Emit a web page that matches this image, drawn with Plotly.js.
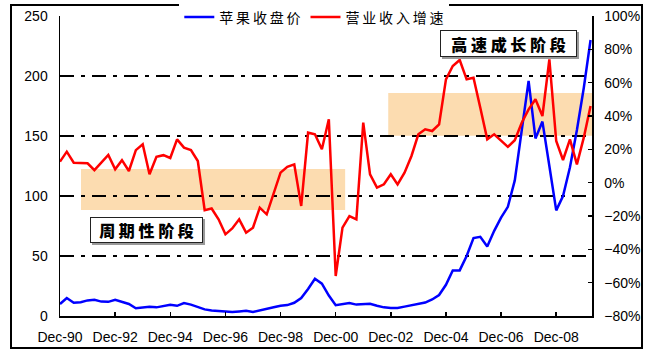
<!DOCTYPE html>
<html>
<head>
<meta charset="utf-8">
<script src="https://cdn.plot.ly/plotly-3.0.1.min.js"></script>
<style>
html,body{margin:0;padding:0;background:#fff;}
#chart{width:658px;height:358px;}
</style>
</head>
<body>
<div id="chart"></div>
<script>
// Quarterly dates, Dec-1990 .. Mar-2010
const dates = [
 "1990-12",
 "1991-03","1991-06","1991-09","1991-12",
 "1992-03","1992-06","1992-09","1992-12",
 "1993-03","1993-06","1993-09","1993-12",
 "1994-03","1994-06","1994-09","1994-12",
 "1995-03","1995-06","1995-09","1995-12",
 "1996-03","1996-06","1996-09","1996-12",
 "1997-03","1997-06","1997-09","1997-12",
 "1998-03","1998-06","1998-09","1998-12",
 "1999-03","1999-06","1999-09","1999-12",
 "2000-03","2000-06","2000-09","2000-12",
 "2001-03","2001-06","2001-09","2001-12",
 "2002-03","2002-06","2002-09","2002-12",
 "2003-03","2003-06","2003-09","2003-12",
 "2004-03","2004-06","2004-09","2004-12",
 "2005-03","2005-06","2005-09","2005-12",
 "2006-03","2006-06","2006-09","2006-12",
 "2007-03","2007-06","2007-09","2007-12",
 "2008-03","2008-06","2008-09","2008-12",
 "2009-03","2009-06","2009-09","2009-12",
 "2010-03"
];

// 苹果收盘价 (left axis)
const closePrice = [
 10,
 15, 11, 11.5, 13,
 13.5, 12, 11.8, 13.5,
 12, 10, 6.5, 6.8,
 7.7, 7.2, 8.2, 9.3,
 8.5, 10.8, 9.5, 7.5,
 5.5, 4.6, 4.1, 3.7,
 3.4, 3.8, 4.3, 3.4,
 4.8, 6.4, 7.3, 8.6,
 9.1, 11, 15, 22.5,
 31, 27, 17, 9,
 9.7, 10.8, 9.5, 9.7,
 10.2, 8.5, 7.2, 6.7,
 6.7, 7.8, 9, 9.7,
 11.2, 13.8, 17.5, 26,
 38, 38, 50, 65,
 66, 58, 71, 82,
 91, 113, 153, 196,
 148, 162, 125, 88,
 100, 124, 155, 190,
 230
];

// 营业收入增速 (right axis, %)
const revenueGrowth = [
 12.6,
 18.6, 12, 11.6, 11.6,
 7.5, 12, 16.6, 8,
 13.5, 7, 19.5, 23,
 5, 15.5, 16.5, 14.8,
 26, 21, 19.6, 13,
 -16.5, -15.5, -22, -31,
 -27.5, -22, -30, -27,
 -15, -19, -6, 6,
 9.5, 11, -14, 30,
 29, 20, 38, -56,
 -27, -20, -22, 36,
 5, -3, -1, 5,
 -1, 6, 16, 29,
 32, 31, 35, 62,
 70, 73.6, 62, 63,
 45, 26, 29, 25,
 21.5, 25.5, 36, 44,
 50, 40, 74, 25,
 13.6, 26, 11, 27,
 46
];

const seriesNames = ["苹\u2009果\u2009收\u2009盘\u2009价", "营\u2009业\u2009收\u2009入\u2009增\u2009速"];
const phaseLabels = ["高 速 成 长 阶 段", "周 期 性 阶 段"];

const tickFont = {family: "Liberation Sans, Arial, sans-serif", size: 14, color: "#000"};

const traces = [
  {x: dates, y: closePrice, name: seriesNames[0], type: "scatter", mode: "lines",
   line: {color: "#0000FF", width: 2.5}, yaxis: "y"},
  {x: dates, y: revenueGrowth, name: seriesNames[1], type: "scatter", mode: "lines",
   line: {color: "#FF0000", width: 2.5}, yaxis: "y2"}
];

const layout = {
  width: 658, height: 358,
  margin: {l: 60, r: 66, t: 16, b: 42, autoexpand: false},
  paper_bgcolor: "#fff", plot_bgcolor: "#fff",
  showlegend: true,
  legend: {orientation: "h", x: 0.478, xanchor: "center", y: 0.995, yanchor: "middle",
           bgcolor: "#fff", borderwidth: 0,
           font: {family: "Noto Sans CJK SC, sans-serif", size: 14, color: "#000"},
           itemwidth: 30, tracegroupgap: 0},
  xaxis: {type: "date", range: ["1990-12-01", "2010-03-20"],
          tick0: "1990-12-01", dtick: "M24", tickformat: "%b-%y",
          showgrid: false, zeroline: false, showline: true, linecolor: "#000", linewidth: 1.5,
          ticks: "inside", ticklen: 4, tickcolor: "#000", tickwidth: 1.5,
          ticklabelstandoff: 8, tickfont: tickFont},
  yaxis: {range: [0, 250], dtick: 50, showgrid: true, gridcolor: "#000", gridwidth: 1.5,
          griddash: "14px,7px,4px,7px", zeroline: false, showline: true,
          linecolor: "#000", linewidth: 1.5, ticks: "", ticklabelstandoff: 8,
          tickfont: tickFont},
  yaxis2: {range: [-80, 100], dtick: 20, ticksuffix: "%", overlaying: "y", side: "right",
           showgrid: false, zeroline: false, showline: true, linecolor: "#000", linewidth: 1.5,
           ticks: "inside", ticklen: 4, tickcolor: "#000", tickwidth: 1.5,
           ticklabelstandoff: 8, tickfont: tickFont},
  shapes: [
    {type: "rect", xref: "paper", yref: "y", x0: 0.0395, x1: 0.536, y0: 88.3, y1: 122.5,
     fillcolor: "#FCDCB0", line: {width: 0}, layer: "below"},
    {type: "rect", xref: "paper", yref: "y", x0: 0.617, x1: 1, y0: 150.2, y1: 185.8,
     fillcolor: "#FCDCB0", line: {width: 0}, layer: "below"},
    {type: "rect", xref: "paper", yref: "paper", x0: 0.718, x1: 0.9756, y0: 0.8567, y1: 0.9467,
     fillcolor: "#999", line: {width: 0}, layer: "above"},
    {type: "rect", xref: "paper", yref: "paper", x0: 0.0602, x1: 0.2726, y0: 0.2367, y1: 0.3233,
     fillcolor: "#999", line: {width: 0}, layer: "above"},
    {type: "rect", xref: "paper", yref: "paper", x0: -0.0921, x1: 1.094, y0: -0.1067, y1: 1.0367,
     fillcolor: "rgba(0,0,0,0)", line: {color: "#000", width: 2}, layer: "below"}
  ],
  annotations: [
    {xref: "paper", yref: "paper", x: 0.843, y: 0.908, xanchor: "center", yanchor: "middle",
     text: phaseLabels[0], showarrow: false, width: 131, height: 21, borderpad: 2,
     bgcolor: "#fff", bordercolor: "#222", borderwidth: 1,
     font: {family: "Noto Sans CJK SC, sans-serif", size: 16, color: "#000", weight: 900}},
    {xref: "paper", yref: "paper", x: 0.1626, y: 0.2867, xanchor: "center", yanchor: "middle",
     text: phaseLabels[1], showarrow: false, width: 107, height: 20, borderpad: 2,
     bgcolor: "#fff", bordercolor: "#222", borderwidth: 1,
     font: {family: "Noto Sans CJK SC, sans-serif", size: 16, color: "#000", weight: 900}}
  ]
};

Plotly.newPlot("chart", traces, layout, {displayModeBar: false, staticPlot: true});
</script>
</body>
</html>
